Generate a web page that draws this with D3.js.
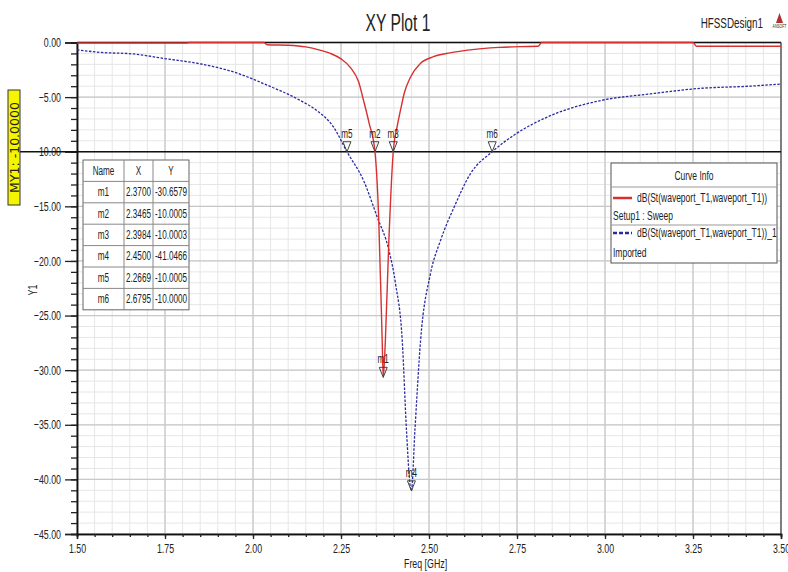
<!DOCTYPE html>
<html>
<head>
<meta charset="utf-8">
<script src="https://cdn.jsdelivr.net/npm/d3@7"></script>
<style>
  body { margin: 0; background: #fff; }
  text { font-family: "Liberation Sans", Arial, sans-serif; fill: #222; }
</style>
</head>
<body>
<div id="my_dataviz"></div>
<script>
// simulated curve (red)
var redFreq = [1.50, 1.81, 1.82, 2.03, 2.04, 2.10, 2.15, 2.19, 2.22, 2.25, 2.277, 2.30, 2.314, 2.33, 2.3465,
    2.357, 2.367, 2.370, 2.376, 2.386, 2.3984, 2.41, 2.419, 2.43, 2.447, 2.476, 2.513, 2.56, 2.61, 2.70,
    2.76, 2.81, 2.82, 3.25, 3.26, 3.50];
var redDb = [-0.05, -0.05, 0, 0, -0.2, -0.25, -0.4, -0.7, -1.0, -1.5, -2.3, -3.6, -5.3, -7.4, -10.0,
    -16.0, -27.3, -30.66, -27.3, -18.1, -10.0, -7.6, -6.2, -4.6, -3.2, -1.9, -1.3, -0.95, -0.7, -0.45,
    -0.38, -0.35, 0, 0, -0.35, -0.35];

// imported curve (blue dashed)
var blueFreq = [1.50, 1.565, 1.66, 1.755, 1.85, 1.945, 2.04, 2.134, 2.18, 2.228, 2.2669, 2.315, 2.353,
    2.386, 2.405, 2.424, 2.436, 2.447, 2.45, 2.46, 2.476, 2.504, 2.533, 2.571, 2.618, 2.6795, 2.75,
    2.845, 2.99, 3.13, 3.27, 3.41, 3.50];
var blueDb = [-0.67, -0.9, -1.05, -1.5, -1.95, -2.7, -3.9, -5.3, -6.2, -7.7, -10.0, -12.7, -16.0,
    -19.0, -22.1, -27.3, -35.5, -40.7, -41.05, -35.5, -27.3, -21.2, -18.1, -15.1, -12.0, -10.0, -8.3,
    -6.7, -5.3, -4.7, -4.2, -4.0, -3.8];

// markers
var markerNames = ["m1", "m2", "m3", "m4", "m5", "m6"];
var markerX = [2.3700, 2.3465, 2.3984, 2.4500, 2.2669, 2.6795];
var markerY = [-30.6579, -10.0005, -10.0003, -41.0466, -10.0005, -10.0000];

var xTicks = [1.50, 1.75, 2.00, 2.25, 2.50, 2.75, 3.00, 3.25, 3.50];
var yTicks = [0, -5, -10, -15, -20, -25, -30, -35, -40, -45];
var markerLineY = -10;

var W = 788, H = 572;
var pL = 77, pR = 781, pT = 42.5, pB = 534;
var sx = 0.68; // narrow font look

var svg = d3.select("#my_dataviz")
    .append("svg")
    .attr("width", W)
    .attr("height", H);

// squeezed text helper
function label(parent, px, py, str, size, anchor, rot) {
    return parent.append("text")
        .attr("transform", "translate(" + px + "," + py + ")" + (rot ? " rotate(" + rot + ")" : "") + " scale(" + sx + ",1)")
        .attr("text-anchor", anchor || "start")
        .attr("font-size", size + "px")
        .text(str);
}

var x = d3.scaleLinear().domain([1.5, 3.5]).range([pL, pR]);
var y = d3.scaleLinear().domain([0, -45]).range([pT, pB]);

// minor grid
var minorX = d3.range(1.5, 3.5001, 0.05);
var minorY = d3.range(0, -45.001, -1);
svg.append("g").selectAll("line")
    .data(minorX).enter().append("line")
    .attr("x1", function(d) { return x(d) }).attr("x2", function(d) { return x(d) })
    .attr("y1", pT).attr("y2", pB)
    .attr("stroke", "#e6e6e6").attr("stroke-width", 1);
svg.append("g").selectAll("line")
    .data(minorY).enter().append("line")
    .attr("y1", function(d) { return y(d) }).attr("y2", function(d) { return y(d) })
    .attr("x1", pL).attr("x2", pR)
    .attr("stroke", "#e6e6e6").attr("stroke-width", 1);

// major grid
svg.append("g").selectAll("line")
    .data(xTicks).enter().append("line")
    .attr("x1", function(d) { return x(d) }).attr("x2", function(d) { return x(d) })
    .attr("y1", pT).attr("y2", pB)
    .attr("stroke", "#c8c8c8").attr("stroke-width", 1.3);
svg.append("g").selectAll("line")
    .data(yTicks).enter().append("line")
    .attr("y1", function(d) { return y(d) }).attr("y2", function(d) { return y(d) })
    .attr("x1", pL).attr("x2", pR)
    .attr("stroke", "#c8c8c8").attr("stroke-width", 1.3);

// frame
svg.append("line").attr("x1", pL).attr("x2", pR).attr("y1", pT).attr("y2", pT)
    .attr("stroke", "#111").attr("stroke-width", 1.5);
svg.append("line").attr("x1", pR).attr("x2", pR).attr("y1", pT).attr("y2", pB)
    .attr("stroke", "#444").attr("stroke-width", 1.2);

// x axis
svg.append("g")
    .attr("class", "axis")
    .attr("transform", "translate(0," + pB + ")")
    .call(d3.axisBottom(x).tickValues(xTicks).tickFormat(d3.format(".2f")).tickSize(5).tickPadding(5))
    .selectAll("text")
    .attr("transform", "scale(" + sx + ",1)")
    .attr("font-size", "13px");
svg.append("g")
    .attr("transform", "translate(0," + pB + ")")
    .call(d3.axisBottom(x).tickValues(minorX).tickFormat("").tickSize(3));

// y axis
svg.append("g")
    .attr("transform", "translate(" + pL + ",0)")
    .call(d3.axisLeft(y).tickValues(yTicks).tickFormat(d3.format(".2f")).tickSize(12).tickPadding(4))
    .selectAll("text")
    .attr("x", -16 / sx)
    .attr("transform", "scale(" + sx + ",1)")
    .attr("font-size", "13px");
svg.append("g")
    .attr("transform", "translate(" + pL + ",0)")
    .call(d3.axisLeft(y).tickValues(minorY).tickFormat("").tickSize(6));

svg.selectAll(".domain").attr("stroke", "#111").attr("stroke-width", 1.5);
svg.selectAll(".tick line").attr("stroke", "#222").attr("stroke-width", 1.3);
svg.selectAll(".tick text").attr("fill", "#222")
    .style("font-family", "'Liberation Sans', Arial, sans-serif");

// axis titles
label(svg, 404, 568, "Freq [GHz]", 13);
label(svg, 37, 290, "Y1", 13, "middle", -90);

// title
label(svg, 398, 31, "XY Plot 1", 23, "middle");
label(svg, 763, 28, "HFSSDesign1", 14.5, "end");
svg.append("path")
    .attr("d", "M779.5,13 L783,23 L776,23 Z")
    .attr("fill", "#b03030");
label(svg, 779.5, 28, "ANSOFT", 5, "middle").attr("fill", "#555");

// MY1 marker line (y = -10)
svg.append("line")
    .attr("x1", 20).attr("x2", pR)
    .attr("y1", y(markerLineY)).attr("y2", y(markerLineY))
    .attr("stroke", "#111").attr("stroke-width", 1.6);
svg.append("rect")
    .attr("x", 8).attr("y", 90).attr("width", 12).attr("height", 115)
    .attr("fill", "#f5f500").attr("stroke", "#333").attr("stroke-width", 1);
svg.append("text")
    .attr("transform", "translate(18.5,147.5) rotate(-90)")
    .attr("text-anchor", "middle")
    .text("MY1: -10.0000")
    .attr("font-size", "12.5px")
    .style("font-family", "'DejaVu Sans', sans-serif");

// curves
var redData = redFreq.map(function(f, i) { return { f: f, v: redDb[i] } });
var blueData = blueFreq.map(function(f, i) { return { f: f, v: blueDb[i] } });
var line = d3.line()
    .x(function(d) { return x(d.f) })
    .y(function(d) { return y(d.v) })
    .curve(d3.curveMonotoneX);

svg.append("path")
    .datum(blueData)
    .attr("d", line)
    .attr("fill", "none")
    .attr("stroke", "#2a2aa0")
    .attr("stroke-width", 1.3)
    .attr("stroke-dasharray", "2.5,1.5");
svg.append("path")
    .datum(redData)
    .attr("d", line)
    .attr("fill", "none")
    .attr("stroke", "#d83030")
    .attr("stroke-width", 1.4);

// marker triangles + labels
var markers = markerNames.map(function(n, i) { return { name: n, f: markerX[i], v: markerY[i] } });
var mg = svg.append("g").selectAll("g")
    .data(markers).enter().append("g")
    .attr("transform", function(d) { return "translate(" + x(d.f) + "," + y(d.v) + ")" });
mg.append("path")
    .attr("d", "M0,0 L-4,-10 L4,-10 Z")
    .attr("fill", "none")
    .attr("stroke", "#444")
    .attr("stroke-width", 1);
mg.each(function(d) {
    label(d3.select(this), 0, -14, d.name, 12, "middle");
});

// marker table
var colX = [83, 124, 153, 189];
var rowH = 21.4, tTop = 160;
var tbl = svg.append("g");
tbl.append("rect")
    .attr("x", colX[0]).attr("y", tTop)
    .attr("width", colX[3] - colX[0]).attr("height", rowH * 7)
    .attr("fill", "#fff").attr("stroke", "#666");
tbl.selectAll(".rowline")
    .data(d3.range(1, 7)).enter().append("line")
    .attr("x1", colX[0]).attr("x2", colX[3])
    .attr("y1", function(d) { return tTop + d * rowH }).attr("y2", function(d) { return tTop + d * rowH })
    .attr("stroke", "#888");
tbl.selectAll(".colline")
    .data([colX[1], colX[2]]).enter().append("line")
    .attr("x1", function(d) { return d }).attr("x2", function(d) { return d })
    .attr("y1", tTop).attr("y2", tTop + rowH * 7)
    .attr("stroke", "#888");
var header = ["Name", "X", "Y"];
var rows = [header].concat(markers.map(function(d, i) {
    return [d.name, markerX[i].toFixed(4), markerY[i].toFixed(4)];
}));
rows.forEach(function(r, ri) {
    r.forEach(function(c, ci) {
        label(tbl, (colX[ci] + colX[ci + 1]) / 2, tTop + ri * rowH + rowH / 2 + 4, c, 12, "middle");
    });
});

// legend
var lg = svg.append("g");
lg.append("rect")
    .attr("x", 611).attr("y", 163).attr("width", 166).attr("height", 100)
    .attr("fill", "#fff").attr("stroke", "#555");
lg.append("line").attr("x1", 611).attr("x2", 777).attr("y1", 187).attr("y2", 187).attr("stroke", "#999");
lg.append("line").attr("x1", 611).attr("x2", 777).attr("y1", 225).attr("y2", 225).attr("stroke", "#999");
label(lg, 694, 180, "Curve Info", 12.5, "middle");
lg.append("line").attr("x1", 613).attr("x2", 632).attr("y1", 198).attr("y2", 198)
    .attr("stroke", "#d83030").attr("stroke-width", 2.5);
label(lg, 637, 202, "dB(St(waveport_T1,waveport_T1))", 12.5);
label(lg, 613, 220, "Setup1 : Sweep", 12.5);
lg.append("line").attr("x1", 613).attr("x2", 632).attr("y1", 233).attr("y2", 233)
    .attr("stroke", "#2a2aa0").attr("stroke-width", 2.5).attr("stroke-dasharray", "4,2");
label(lg, 637, 237, "dB(St(waveport_T1,waveport_T1))_1", 12.5);
label(lg, 613, 257, "Imported", 12.5);
</script>
</body>
</html>
